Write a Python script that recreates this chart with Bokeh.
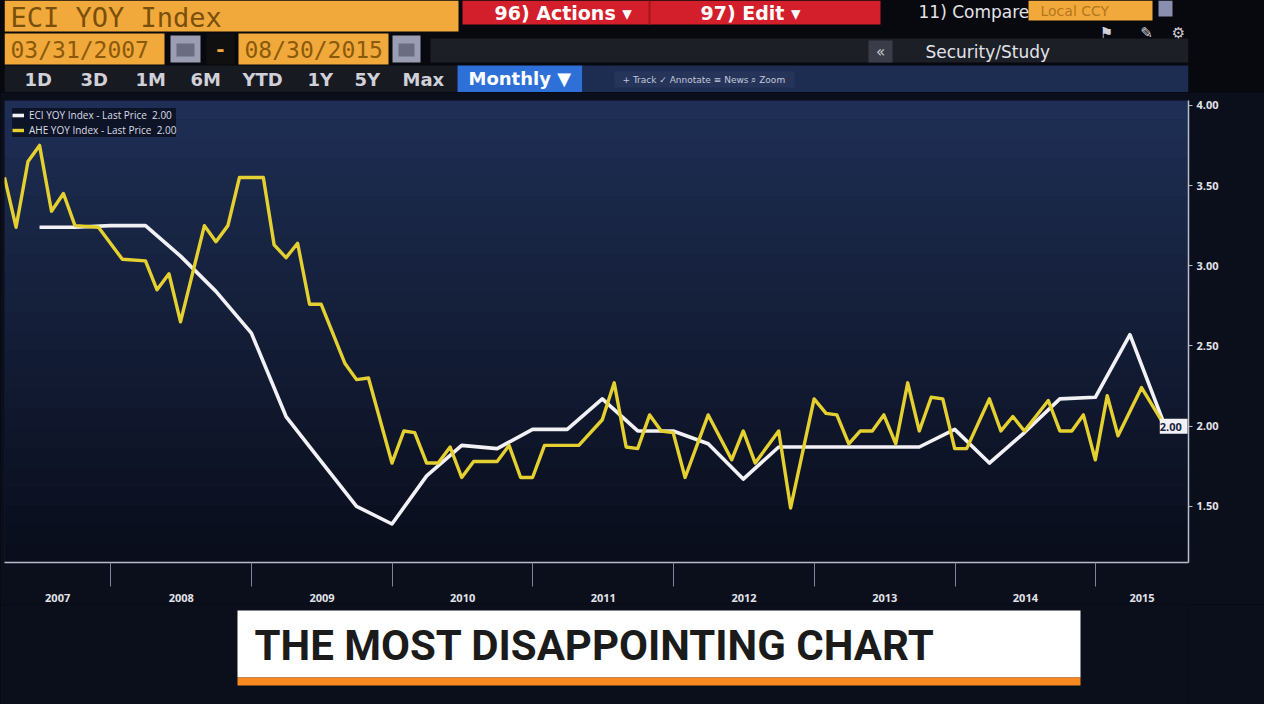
import numpy as np
import pandas as pd
from bokeh.plotting import figure
from bokeh.models import (ColumnDataSource, Range1d, FixedTicker, PrintfTickFormatter,
                          DatetimeTickFormatter, Legend, LegendItem, Label, BoxAnnotation)
from bokeh.layouts import column
from bokeh.embed import file_html
from bokeh.resources import INLINE
from bokeh.core.properties import value

# ---------------- data ----------------
ahe_months = ["2007-03", "2007-04", "2007-05", "2007-06", "2007-07", "2007-08", "2007-09", "2007-11",
              "2008-01", "2008-03", "2008-04", "2008-05", "2008-06", "2008-08", "2008-09", "2008-10",
              "2008-11", "2009-01", "2009-02", "2009-03", "2009-04", "2009-05", "2009-06", "2009-08",
              "2009-09", "2009-10", "2009-12", "2010-01", "2010-02", "2010-03", "2010-04", "2010-05",
              "2010-06", "2010-07", "2010-09", "2010-10", "2010-11", "2010-12", "2011-01", "2011-04",
              "2011-06", "2011-07", "2011-08", "2011-09", "2011-10", "2011-11", "2011-12", "2012-01",
              "2012-03", "2012-05", "2012-06", "2012-07", "2012-09", "2012-10", "2012-12", "2013-01",
              "2013-02", "2013-03", "2013-04", "2013-05", "2013-06", "2013-07", "2013-08", "2013-09",
              "2013-10", "2013-11", "2013-12", "2014-01", "2014-03", "2014-04", "2014-05", "2014-06",
              "2014-08", "2014-09", "2014-10", "2014-11", "2014-12", "2015-01", "2015-02", "2015-04",
              "2015-06"]
ahe_values = [3.55, 3.24, 3.65, 3.75, 3.34, 3.45, 3.25, 3.24,
              3.04, 3.03, 2.85, 2.95, 2.65, 3.25, 3.15, 3.25,
              3.55, 3.55, 3.13, 3.05, 3.14, 2.76, 2.76, 2.39,
              2.29, 2.30, 1.77, 1.97, 1.96, 1.77, 1.77, 1.87,
              1.68, 1.78, 1.78, 1.88, 1.68, 1.68, 1.88, 1.88,
              2.04, 2.27, 1.87, 1.86, 2.07, 1.97, 1.96, 1.68,
              2.07, 1.79, 1.97, 1.77, 1.97, 1.49, 2.17, 2.08,
              2.07, 1.89, 1.97, 1.97, 2.07, 1.89, 2.27, 1.97,
              2.18, 2.17, 1.86, 1.86, 2.17, 1.97, 2.06, 1.97,
              2.16, 1.97, 1.97, 2.07, 1.79, 2.19, 1.94, 2.24,
              2.00]

eci_quarters = ["2007-06", "2007-09", "2007-12", "2008-03", "2008-06", "2008-09", "2008-12",
                "2009-03", "2009-06", "2009-09", "2009-12", "2010-03", "2010-06", "2010-09",
                "2010-12", "2011-03", "2011-06", "2011-09", "2011-12", "2012-03", "2012-06",
                "2012-09", "2012-12", "2013-03", "2013-06", "2013-09", "2013-12", "2014-03",
                "2014-06", "2014-09", "2014-12", "2015-03", "2015-06"]
eci_values = [3.24, 3.24, 3.25, 3.25, 3.06, 2.84, 2.58,
              2.06, 1.78, 1.50, 1.39, 1.69, 1.88, 1.86,
              1.98, 1.98, 2.17, 1.97, 1.97, 1.89, 1.67,
              1.87, 1.87, 1.87, 1.87, 1.87, 1.98, 1.77,
              1.96, 2.17, 2.18, 2.57, 2.00]

y_ticks = [1.50, 2.00, 2.50, 3.00, 3.50, 4.00]
year_labels = [2007, 2008, 2009, 2010, 2011, 2012, 2013, 2014, 2015]
timeframe_buttons = ["1D", "3D", "1M", "6M", "YTD", "1Y", "5Y", "Max"]
ticker_name = "ECI YOY Index"
start_label, end_label = "03/31/2007", "08/30/2015"
caption = "THE MOST DISAPPOINTING CHART"


def month_end(s):
    return pd.to_datetime(s) + pd.offsets.MonthEnd(0)


def ms(ts):
    return pd.Timestamp(ts).value / 1e6


W = 1264
BL, BR = 4, 76            # left / right borders shared by all stacked figures (frames align)
FX0, FX1 = BL, W - BR     # frame extent in canvas pixels
x_start = pd.Timestamp("2007-03-31")
x_end = pd.Timestamp("2015-08-30")
y_lo, y_hi = 1.15, 4.03
PAGE_BG = "#08090e"


def panel(height, bg):
    fig = figure(width=W, height=height, x_range=Range1d(FX0, FX1), y_range=Range1d(height, 0),
                 output_backend="svg", toolbar_location=None,
                 min_border_left=BL, min_border_right=BR, min_border_top=0, min_border_bottom=0,
                 background_fill_color=bg, border_fill_color=bg)
    fig.axis.visible = False
    fig.grid.visible = False
    fig.outline_line_color = None
    return fig


# ---------------- header (terminal controls) ----------------
HH = 92
h = panel(HH, PAGE_BG)
hq = ColumnDataSource(dict(
    left=[4, 462, 648, 1028, 1158, 4, 170, 176, 206, 238, 392, 398, 430, 868, 4, 457, 582, 614],
    right=[458, 880, 650, 1152, 1172, 164, 200, 194, 234, 388, 420, 414, 1188, 892, 457, 582, 1188, 794],
    top=[0, 0, 0, 0, 0, 33, 35, 43, 33, 33, 35, 43, 38, 40, 65, 65, 65, 71],
    bottom=[31, 24, 24, 20, 16, 64, 62, 56, 64, 64, 62, 56, 62, 62, 92, 92, 92, 87],
    color=["#f2a93b", "#d31f2b", "#a5141d", "#f2a93b", "#8a8fb0", "#f2a93b", "#9b9db3", "#6a6c82",
           "#101010", "#f2a93b", "#9b9db3", "#6a6c82", "#1d1f26", "#3a3d48", "#181a22", "#2e6fd8",
           "#1d2d52", "#26345a"]))
h.quad(left="left", right="right", top="top", bottom="bottom", fill_color="color",
       line_color=None, source=hq)

h.text(x=[10], y=[17], text=[ticker_name], text_font=value("DejaVu Sans Mono"),
       text_font_size="27px", text_color="#7a4f0a", text_baseline="middle")
h.text(x=[10, 244], y=[49, 49], text=[start_label, end_label], text_font=value("DejaVu Sans Mono"),
       text_font_size="23px", text_color="#8a5a0a", text_baseline="middle")
h.text(x=[220], y=[48], text=["-"], text_font=value("DejaVu Sans"), text_font_size="20px",
       text_color="#f2a93b", text_baseline="middle", text_align="center", text_font_style="bold")
h.text(x=[494, 700], y=[12, 12], text=["96) Actions \u25be", "97) Edit \u25be"],
       text_font=value("DejaVu Sans"), text_font_size="19px", text_color="#ffffff",
       text_baseline="middle", text_font_style="bold")
h.text(x=[918, 925], y=[11, 51], text=["11) Compare", "Security/Study"],
       text_font=value("DejaVu Sans"), text_font_size="17px", text_color="#e2e3ea",
       text_baseline="middle")
h.text(x=[1040], y=[10], text=["Local CCY"], text_font=value("DejaVu Sans"), text_font_size="14px",
       text_color="#b4761e", text_baseline="middle")
h.text(x=[880, 1106, 1146, 1178], y=[51, 32, 32, 32], text=["\u00ab", "\u2691", "\u270e", "\u2699"],
       text_font=value("DejaVu Sans"), text_font_size="15px", text_color="#cfd0d8",
       text_baseline="middle", text_align="center")
bx = [24, 80, 135, 190, 242, 307, 354, 402]
h.text(x=bx, y=[79] * len(bx), text=timeframe_buttons, text_font=value("DejaVu Sans"),
       text_font_size="18px", text_color="#cfd0d8", text_baseline="middle", text_font_style="bold")
h.text(x=[468], y=[78], text=["Monthly \u25bc"], text_font=value("DejaVu Sans"), text_font_size="18px",
       text_color="#ffffff", text_baseline="middle", text_font_style="bold")
h.text(x=[622], y=[79], text=["+ Track    \u2713 Annotate    \u2261 News    \u2315 Zoom"],
       text_font=value("DejaVu Sans"), text_font_size="9px", text_color="#c3c8da",
       text_baseline="middle")

# ---------------- main chart ----------------
p = figure(width=W, height=512, x_axis_type="datetime", y_axis_location="right",
           x_range=Range1d(ms(x_start), ms(x_end)), y_range=Range1d(y_lo, y_hi),
           output_backend="svg", toolbar_location=None,
           min_border_left=BL, min_border_right=BR, min_border_top=8, min_border_bottom=34,
           background_fill_color="#16223f", border_fill_color="#0b0f1c")
p.outline_line_color = None
p.xgrid.grid_line_color = None
p.ygrid.grid_line_color = None

# vertical background shading (screen glow), styling only
c_top = np.array([30, 46, 84])
c_bot = np.array([10, 14, 28])
edges = np.linspace(y_hi, y_lo, 25)
for i in range(24):
    fr = i / 23
    c = (c_top * (1 - fr) + c_bot * fr).astype(int)
    p.add_layout(BoxAnnotation(top=edges[i], bottom=edges[i + 1],
                               fill_color="#%02x%02x%02x" % tuple(c), fill_alpha=1.0,
                               line_color=None, level="underlay"))

src_eci = ColumnDataSource(dict(date=[month_end(q) for q in eci_quarters], val=eci_values))
src_ahe = ColumnDataSource(dict(date=[month_end(m) for m in ahe_months], val=ahe_values))
r_eci = p.line("date", "val", source=src_eci, line_color="#f1f1f6", line_width=3.6, line_join="round")
r_ahe = p.line("date", "val", source=src_ahe, line_color="#e4d030", line_width=3.4, line_join="round")

# x axis: year labels centred in each year, separators at year boundaries
label_pos = []
for y in year_labels:
    a = max(pd.Timestamp(f"{y}-01-01"), x_start)
    b = min(pd.Timestamp(f"{y + 1}-01-01"), x_end)
    label_pos.append(ms(a + (b - a) / 2))
bounds = [ms(f"{y}-01-01") for y in year_labels[1:]]
p.xaxis.ticker = FixedTicker(ticks=label_pos, minor_ticks=bounds)
p.xaxis.formatter = DatetimeTickFormatter(years="%Y", months="%Y", days="%Y", hours="%Y",
                                          hourmin="%Y", minutes="%Y", minsec="%Y", seconds="%Y",
                                          milliseconds="%Y", microseconds="%Y")
p.xaxis.axis_line_color = "#b9bdcc"
p.xaxis.axis_line_width = 1.5
p.xaxis.major_tick_line_color = None
p.xaxis.minor_tick_line_color = "#7d8499"
p.xaxis.minor_tick_out = 24
p.xaxis.minor_tick_in = 0
p.xaxis.major_label_standoff = 7
p.xaxis.major_label_text_color = "#e2e3ea"
p.xaxis.major_label_text_font = "Open Sans"
p.xaxis.major_label_text_font_size = "11px"
p.xaxis.major_label_text_font_style = "bold"

p.yaxis.ticker = FixedTicker(ticks=y_ticks)
p.yaxis.formatter = PrintfTickFormatter(format="%.2f")
p.yaxis.axis_line_color = "#b9bdcc"
p.yaxis.axis_line_width = 1.5
p.yaxis.major_tick_line_color = "#b9bdcc"
p.yaxis.major_tick_out = 4
p.yaxis.major_tick_in = 0
p.yaxis.minor_tick_line_color = None
p.yaxis.major_label_standoff = 4
p.yaxis.major_label_text_color = "#e2e3ea"
p.yaxis.major_label_text_font = "Open Sans"
p.yaxis.major_label_text_font_size = "11px"
p.yaxis.major_label_text_font_style = "bold"

legend = Legend(items=[
    LegendItem(label=f"ECI YOY Index - Last Price  {eci_values[-1]:.2f}", renderers=[r_eci]),
    LegendItem(label=f"AHE YOY Index - Last Price  {ahe_values[-1]:.2f}", renderers=[r_ahe]),
], location="top_left", background_fill_color="#0c1224", background_fill_alpha=0.9,
    border_line_color=None, label_text_color="#dcdde6", label_text_font_size="10px",
    label_text_font="Open Sans", glyph_width=12, glyph_height=10, label_height=11,
    spacing=1, padding=5, margin=8)
p.add_layout(legend)

# last-price tag at the right edge of the frame
p.add_layout(Label(x=ms(x_end), y=eci_values[-1], text=f" {eci_values[-1]:.2f} ", x_offset=-1,
                   text_baseline="middle", text_align="right", text_font_size="11px",
                   text_font="Open Sans", text_font_style="bold", text_color="#1c2440",
                   background_fill_color="#f1f2f6"))

# ---------------- caption strip ----------------
FH = 100
f = panel(FH, "#0b0f1c")
f.quad(left=[237, 237], right=[1080, 1080], top=[6, 73], bottom=[73, 81],
       fill_color=["#ffffff", "#f7891f"], line_color=None)
f.text(x=[254], y=[41], text=[caption], text_font=value("Roboto"), text_font_size="42px",
       text_font_style="bold", text_color="#1b1b1b", text_baseline="middle")

layout = column(h, p, f, styles={"background-color": PAGE_BG})
open("out.html", "w").write(file_html(layout, INLINE))
